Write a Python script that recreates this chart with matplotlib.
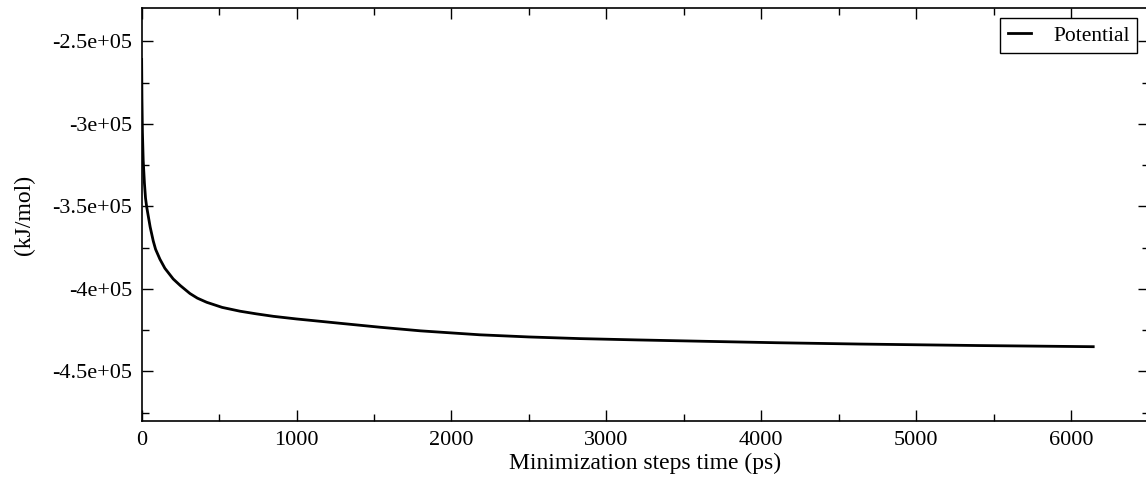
import matplotlib
matplotlib.use("Agg")
import matplotlib.pyplot as plt
from matplotlib.ticker import MultipleLocator

# Potential energy during minimization
steps = [0, 2, 5, 10, 18, 25, 32, 43, 55, 75, 90, 118, 150, 204, 250, 312, 360,
         420, 520, 635, 740, 850, 1000, 1108, 1300, 1538, 1800, 2184, 2500,
         2830, 3200, 3669, 4100, 4637, 5400, 6143]
potential = [-2.61e5, -2.85e5, -3.05e5, -3.22e5, -3.36e5, -3.45e5, -3.50e5,
             -3.56e5, -3.625e5, -3.71e5, -3.76e5, -3.82e5, -3.875e5, -3.94e5,
             -3.98e5, -4.028e5, -4.056e5, -4.081e5, -4.112e5, -4.135e5, -4.151e5,
             -4.166e5, -4.182e5, -4.192e5, -4.21e5, -4.232e5, -4.254e5, -4.278e5,
             -4.291e5, -4.301e5, -4.309e5, -4.318e5, -4.326e5, -4.334e5,
             -4.343e5, -4.35e5]

series_label = "Potential"
x_label = "Minimization steps time (ps)"
y_label = "(kJ/mol)"
x_limits = (0, 6500)
y_limits = (-4.8e5, -2.3e5)


def sci_fmt(v, _pos):
    return f"{v:.1e}".replace(".0e", "e")


def main() -> None:
    plt.rcParams["font.family"] = ["Liberation Serif", "DejaVu Serif"]

    fig = plt.figure(figsize=(11.46, 4.82), dpi=100)
    ax = fig.add_axes([0.1236, 0.1266, 0.8786, 0.8562])

    ax.plot(steps, potential, color="black", linewidth=2.0, label=series_label,
            solid_joinstyle="round")

    ax.set_xlim(*x_limits)
    ax.set_ylim(*y_limits)
    ax.xaxis.set_major_locator(MultipleLocator(1000))
    ax.xaxis.set_minor_locator(MultipleLocator(500))
    ax.yaxis.set_major_locator(MultipleLocator(50000))
    ax.yaxis.set_minor_locator(MultipleLocator(25000))
    ax.yaxis.set_major_formatter(plt.FuncFormatter(sci_fmt))

    ax.tick_params(which="both", direction="in", top=True, right=True, width=1.0, labelsize=16)
    ax.tick_params(which="major", length=8, pad=7)
    ax.tick_params(which="minor", length=4.8)
    for sp in ax.spines.values():
        sp.set_linewidth(1.2)

    ax.set_xlabel(x_label, fontsize=17, labelpad=2)
    ax.set_ylabel(y_label, fontsize=17, labelpad=12)

    leg = ax.legend(loc="upper right", bbox_to_anchor=(1137 / 1146, 1 - 18 / 482),
                    bbox_transform=fig.transFigure, fontsize=15.5, frameon=True,
                    fancybox=False, framealpha=1, edgecolor="black",
                    handlelength=1.1, handletextpad=1.0, borderpad=0.35,
                    borderaxespad=0)
    leg.get_frame().set_linewidth(1.0)

    fig.savefig("out.png", dpi=100)
    plt.close(fig)


if __name__ == "__main__":
    main()
